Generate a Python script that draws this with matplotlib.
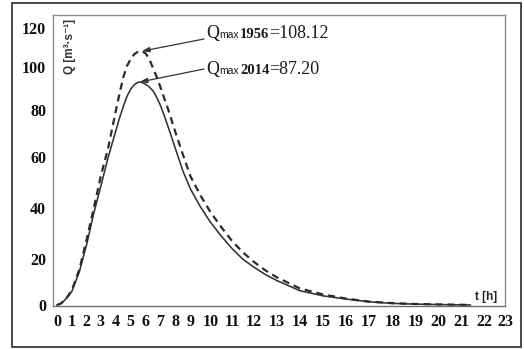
import numpy as np
import matplotlib
matplotlib.use('Agg')
import matplotlib.pyplot as plt
from matplotlib.patches import Rectangle

# ---------------- data ----------------
hours_2014 = [0, 0.25, 0.5, 0.75, 1, 1.5, 2, 2.5, 3, 3.5, 4, 4.25, 4.5, 4.75, 5, 5.25, 5.5, 5.6,
              5.75, 6, 6.25, 6.5, 6.75, 7, 7.25, 7.5, 8, 8.5, 9, 9.5, 10, 10.5, 11, 11.5, 12,
              12.5, 13, 14, 15, 16, 17, 18, 19, 20, 21, 21.4]
q_2014 = [0, 0.6, 2, 3.8, 6, 14.5, 26, 38, 48.5, 60, 71, 76.5, 81.5, 86.3, 89.7, 91.8, 92.9, 93,
          92.8, 92, 90.7, 88.9, 85.8, 82, 77.6, 73, 63.5, 54.5, 47.5, 40.5, 34.5, 29, 24, 19.8, 16.4,
          13.2, 10.6, 6.2, 4.0, 2.6, 1.4, 0.7, 0.4, 0.2, 0.05, 0]

hours_1956 = [0, 0.25, 0.5, 0.75, 1, 1.5, 2, 2.5, 3, 3.5, 4, 4.25, 4.5, 4.75, 5, 5.25, 5.5, 5.75,
              6, 6.25, 6.5, 6.75, 7, 7.25, 7.5, 8, 8.5, 9, 9.5, 10, 10.5, 11, 11.5, 12, 12.5, 13,
              14, 15, 16, 17, 18, 19, 20, 21, 21.4]
q_1956 = [0, 0.6, 2, 4, 6.5, 15.5, 28, 40, 52.5, 64, 79.5, 87.5, 95, 100.5, 104, 106.6, 107.9, 108.12,
          107, 104, 99.5, 95.3, 90.5, 85.5, 80.5, 70.5, 61, 52.5, 45, 38.5, 32.5, 27, 22.5, 18.7, 15, 12,
          7.2, 4.6, 2.8, 1.5, 0.8, 0.45, 0.25, 0.1, 0]

x_ticks = list(range(0, 24))
y_ticks = [0, 20, 40, 60, 80, 100, 120]

label_1956 = ('1956', '108.12')
label_2014 = ('2014', '87.20')

# positions (pixels) of the hand-set tick labels of the original figure
x_tick_px = [57, 72, 87, 101, 116, 131, 146, 161, 176, 191, 211, 233, 255, 278,
             301, 324, 347, 370, 394, 417, 440, 463, 486, 507]
y_tick_px = [305, 259, 208, 157, 110, 67, 28]

W, H = 524, 349
fig = plt.figure(figsize=(W / 100, H / 100), dpi=100)

# piecewise scales reproducing the original tick layout
xT = np.array([-50.0] + x_ticks + [80.0])
xP = np.array([57 - 50 * 15.0] + x_tick_px + [507 + 57 * 23.0])
yT = np.array([-200.0] + y_ticks + [300.0])
yHgt = [H - p for p in y_tick_px]
yP = np.array([yHgt[0] - 200 * 2.3] + yHgt + [yHgt[-1] + 180 * 1.95])


def fx(t):
    return np.interp(t, xT, xP)


def fx_inv(p):
    return np.interp(p, xP, xT)


def fy(q):
    return np.interp(q, yT, yP)


def fy_inv(p):
    return np.interp(p, yP, yT)


ax_l, ax_r, ax_t, ax_b = 53, 505, 15, 306
ax = fig.add_axes([ax_l / W, (H - ax_b) / H, (ax_r - ax_l) / W, (ax_b - ax_t) / H])
ax.set_xscale('function', functions=(fx, fx_inv))
ax.set_yscale('function', functions=(fy, fy_inv))
ax.set_xlim(float(fx_inv(ax_l)), float(fx_inv(ax_r)))
ax.set_ylim(float(fy_inv(H - ax_b)), float(fy_inv(H - ax_t)))

line_col = '#2b2b2b'
ax.plot(hours_2014, q_2014, color='#333333', lw=1.15, solid_joinstyle='round')
ax.plot(hours_1956, q_1956, color=line_col, lw=1.6, dashes=(3.2, 2.2))

ax.set_xticks(x_ticks)
ax.set_xticklabels([str(v) for v in x_ticks])
ax.set_yticks(y_ticks)
ax.set_yticklabels([str(v) for v in y_ticks])
ax.xaxis.set_minor_locator(matplotlib.ticker.NullLocator())
ax.yaxis.set_minor_locator(matplotlib.ticker.NullLocator())
for lab in ax.get_xticklabels() + ax.get_yticklabels():
    lab.set_fontfamily('Liberation Serif')
    lab.set_fontweight('bold')
    lab.set_fontsize(11.5)
    lab.set_color('#111111')
ax.tick_params(axis='x', length=0, pad=6)
ax.tick_params(axis='y', length=0, pad=5)

for s in ax.spines.values():
    s.set_color('#8c8c8c')
    s.set_linewidth(1.0)
ax.spines['bottom'].set_color('#6e6e6e')

# axis titles inside the frame
ax.text(70 / W, (H - 19) / H, 'Q [m³·s⁻¹]', transform=fig.transFigure, rotation=90,
        ha='center', va='top', fontsize=8.5, fontweight='bold', color='#333333',
        family=['Liberation Sans', 'DejaVu Sans'])
ax.text(486 / W, (H - 297) / H, 't [h]', transform=fig.transFigure,
        ha='center', va='center', fontsize=8.5, fontweight='bold', color='#222222',
        family=['Liberation Sans', 'DejaVu Sans'])

# annotations (arrow to the peak of each series)
i56 = int(np.argmax(q_1956))
i14 = int(np.argmax(q_2014))
arrow_kw = dict(arrowstyle='-|>,head_length=0.45,head_width=0.15', color='#333333', lw=0.9,
                shrinkA=0, shrinkB=0)
ax.annotate('', xy=(hours_1956[i56], q_1956[i56]), xytext=(204, H - 39),
            textcoords='figure pixels', arrowprops=arrow_kw)
ax.annotate('', xy=(hours_2014[i14], q_2014[i14]), xytext=(204, H - 69),
            textcoords='figure pixels', arrowprops=arrow_kw)

renderer = fig.canvas.get_renderer()


def draw_pieces(x0, baseline, pieces):
    x = x0
    for s, props in pieces:
        t = fig.text(x / W, (H - baseline) / H, s, ha='left', va='baseline',
                     color='#1a1a1a', **props)
        bb = t.get_window_extent(renderer)
        x = bb.x1


for (year, val), base in ((label_1956, 38), (label_2014, 74)):
    draw_pieces(206, base, [
        ('Q', dict(family='Liberation Serif', size=13)),
        ('max', dict(family='Liberation Sans', size=7.5)),
        (' ', dict(family='Liberation Sans', size=4)),
        (year, dict(family='Liberation Serif', size=10.5, weight='bold')),
        ('=' + val, dict(family='Liberation Serif', size=13)),
    ])

# outer frame of the figure
fig.patches.append(Rectangle((12 / W, (H - 347) / H), (521 - 12) / W, (347 - 3) / H,
                             transform=fig.transFigure, fill=False, ec='#3a3a3a', lw=1.3))

fig.savefig('out.png', dpi=100)
